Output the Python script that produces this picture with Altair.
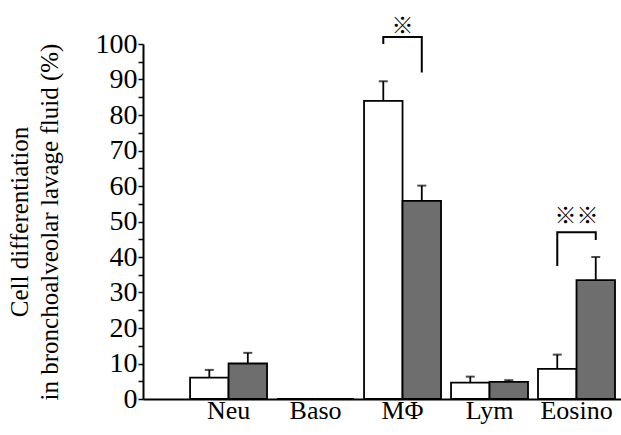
import altair as alt
import pandas as pd

categories = ["Neu", "Baso", "MΦ", "Lym", "Eosino"]
groups = ["control", "treated"]
control_vals = [6.0, 0.0, 84.0, 4.6, 8.5]
control_err = [2.2, 0.0, 5.5, 1.7, 4.0]
treated_vals = [10.0, 0.0, 55.8, 4.8, 33.5]
treated_err = [3.0, 0.0, 4.3, 0.5, 6.5]
y_ticks = list(range(0, 101, 5))

# significance brackets: (category, group, y, step)
br_cat = ["MΦ"] * 4 + ["Eosino"] * 4
br_grp = ["control", "control", "treated", "treated"] * 2
br_y = [100.0, 102.0, 102.0, 92.0, 37.5, 47.0, 47.0, 44.8]
br_step = [0, 1, 2, 3] * 2
star_cat = ["MΦ", "Eosino"]
star_txt = ["※", "※※"]
star_y = [105.0, 51.5]

rows = []
for i, c in enumerate(categories):
    rows.append({"cat": c, "grp": "control", "v": control_vals[i], "e": control_vals[i] + control_err[i], "has": control_err[i] > 0})
    rows.append({"cat": c, "grp": "treated", "v": treated_vals[i], "e": treated_vals[i] + treated_err[i], "has": treated_err[i] > 0})
df = pd.DataFrame(rows)
df_err = df[df["has"]]
df_br = pd.DataFrame({"cat": br_cat, "grp": br_grp, "y": br_y, "step": br_step,
                      "bid": [c for c in br_cat]})
df_star = pd.DataFrame({"cat": star_cat, "txt": star_txt, "y": star_y})

SERIF = "Liberation Serif"

xscale = alt.Scale(domain=categories, paddingInner=0.115, paddingOuter=0.305, align=0.887)
yscale = alt.Scale(domain=[0, 100], nice=False, zero=True)
xoff = alt.XOffset("grp:N", scale=alt.Scale(domain=groups), sort=groups)

x_axis = alt.Axis(title=None, ticks=False, labelAngle=0, labelFont=SERIF,
                  labelFontSize=26, labelColor="black", labelPadding=-2,
                  domainColor="black", domainWidth=2)
y_axis = alt.Axis(values=y_ticks,
                  labelExpr="datum.value % 10 == 0 ? datum.label : ''",
                  labelOverlap=False, labelFlush=False,
                  title=["Cell differentiation", "in bronchoalveolar lavage fluid (%)"],
                  titleFont=SERIF, titleFontSize=25, titleFontWeight="normal",
                  titleColor="black", titleLineHeight=30, titlePadding=33,
                  labelFont=SERIF, labelFontSize=28, labelColor="black",
                  labelPadding=1, tickSize=5, tickColor="black", tickWidth=1.5,
                  domainColor="black", domainWidth=2, grid=False)


def X():
    return alt.X("cat:N", scale=xscale, sort=categories, axis=x_axis)


def Y(field):
    return alt.Y(field, scale=yscale, axis=y_axis)


bars = alt.Chart(df).mark_bar(stroke="black", strokeWidth=1.8).encode(
    x=X(),
    xOffset=xoff,
    y=Y("v:Q"),
    fill=alt.Fill("grp:N", scale=alt.Scale(domain=groups, range=["white", "#6e6e6e"]), legend=None),
)

err = alt.Chart(df_err).mark_rule(color="black", strokeWidth=1.8).encode(
    x=X(),
    xOffset=xoff,
    y=Y("v:Q"),
    y2="e:Q",
)
caps = alt.Chart(df_err).mark_tick(color="black", size=9, thickness=2, orient="horizontal").encode(
    x=X(),
    xOffset=xoff,
    y=Y("e:Q"),
)
brackets = alt.Chart(df_br).mark_line(color="black", strokeWidth=2).encode(
    x=X(),
    xOffset=xoff,
    y=Y("y:Q"),
    detail="bid:N",
    order="step:Q",
)
stars = alt.Chart(df_star).mark_text(font="Noto Sans CJK JP", fontSize=22, fontWeight="bold", color="black").encode(
    x=X(),
    y=Y("y:Q"),
    text="txt:N",
)

chart = alt.layer(bars, err, caps, brackets, stars).properties(
    width=478, height=355,
    autosize=alt.AutoSizeParams(type="none"),
    padding={"left": 143, "top": 44, "right": 0, "bottom": 36},
    background="white",
).configure_view(stroke=None)

chart.save("out.html", embed_options={"renderer": "svg", "actions": False})
